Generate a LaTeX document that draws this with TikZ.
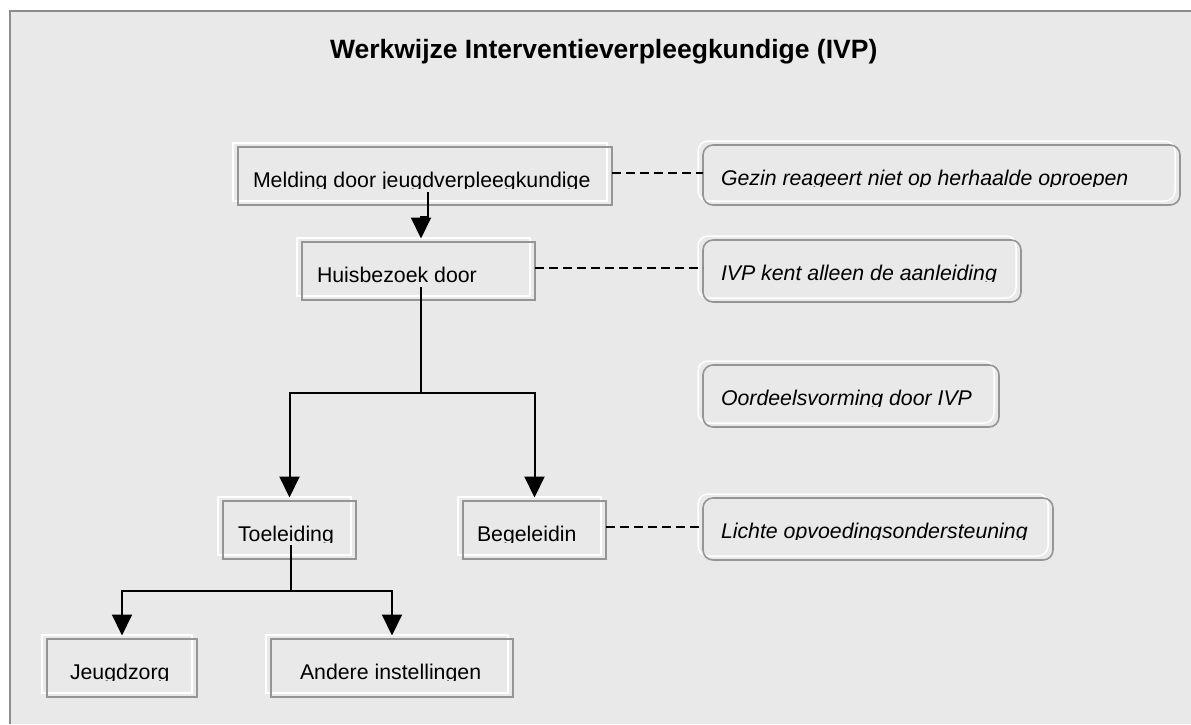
\documentclass[tikz,border=0pt]{standalone}
\usepackage{fontspec}
\setmainfont{Liberation Sans}
\usetikzlibrary{arrows.meta}
\definecolor{bgc}{HTML}{E9E9E9}
\definecolor{frc}{HTML}{8C8C8C}
\definecolor{bxc}{HTML}{959595}
\tikzset{
 boxst/.style={draw=bxc, line width=1.6pt, inner sep=0pt, outer sep=0pt},
 rbox/.style={boxst, rounded corners=10pt},
 hl/.style={draw=white, line width=1.5pt},
 lbl/.style={anchor=base west, inner sep=0pt, outer sep=0pt, font=\fontsize{21.3}{25}\selectfont},
 ilbl/.style={anchor=base west, inner sep=0pt, outer sep=0pt, font=\fontsize{21.3}{25}\selectfont\itshape},
 arr/.style={draw=black, line width=2pt, -{Triangle[length=21pt,width=20pt]}, shorten >=3.5pt},
 lnk/.style={draw=black, line width=2pt},
 dsh/.style={draw=black, line width=1.5pt, dash pattern=on 9pt off 5pt},
 ttl/.style={anchor=base west, inner sep=0pt, outer sep=0pt, font=\fontsize{26.5}{30}\selectfont\bfseries},
}
\newcommand\mkbox[9]{%
 \draw[#8, hl] (#2-5,#3-4) rectangle (#4-5,#5-4);
 \node[#8, minimum width=#4-#2, minimum height=#5-#3, anchor=north west] (#1) at (#2,#3) {};
 \begin{scope}
 \clip (#2,#3) rectangle (#4,#3+41);
 \node[#9] (#1-t) at (#6,#3+40) {#7};
 \end{scope}}
\begin{document}
\begin{tikzpicture}[x=1pt,y=-1pt]
\useasboundingbox (0,0) rectangle (1191,724);
\fill[bgc] (10,11) rectangle (1191,724);
\draw[frc, line width=2pt] (10,724) -- (10,11) -- (1191,11);

\node[ttl] (title) at (330,58) {Werkwijze Interventieverpleegkundige (IVP)};

\mkbox{mel}{238}{147}{612}{205}{253}{Melding door jeugdverpleegkundige}{boxst}{lbl}
\mkbox{hb}{302}{242}{535}{300}{317}{Huisbezoek door}{boxst}{lbl}
\mkbox{toe}{223}{501}{356}{559}{238}{Toeleiding}{boxst}{lbl}
\mkbox{beg}{463}{501}{606}{559}{477}{Begeleidin}{boxst}{lbl}
\mkbox{jz}{47}{639}{197}{697}{70}{Jeugdzorg}{boxst}{lbl}
\mkbox{ai}{271}{639}{513}{697}{300}{Andere instellingen}{boxst}{lbl}
\mkbox{gez}{703}{145}{1180}{205}{721}{Gezin reageert niet op herhaalde oproepen}{rbox}{ilbl}
\mkbox{ivp}{703}{240}{1021}{302}{721}{IVP kent alleen de aanleiding}{rbox}{ilbl}
\mkbox{oor}{703}{365}{999}{427}{721}{Oordeelsvorming door IVP}{rbox}{ilbl}
\mkbox{lic}{703}{498}{1053}{560}{721}{Lichte opvoedingsondersteuning}{rbox}{ilbl}

% connectors
\coordinate (m1) at (428,192);
\coordinate (j1) at (421,217);
\draw[arr] (m1) |- (j1) -- (j1 |- hb.north);

\coordinate (h1) at (421,287);
\coordinate (j2) at (421,393);
\draw[lnk] (h1) -- (j2);
\draw[arr] (j2) -| (toe.north);
\draw[arr] (j2) -| (beg.north);

\coordinate (t1) at (291,545);
\coordinate (j3) at (291,591);
\draw[lnk] (t1) -- (j3);
\draw[arr] (j3) -| (jz.north);
\draw[arr] (j3) -| (ai.north);

\coordinate (d1) at ([yshift=3pt]mel.east);
\draw[dsh] (d1) -- (d1 -| gez.west);
\coordinate (d2) at ([yshift=3pt]hb.east);
\draw[dsh] (d2) -- (d2 -| ivp.west);
\coordinate (d3) at ([yshift=3pt]beg.east);
\draw[dsh] (d3) -- (d3 -| lic.west);
\end{tikzpicture}
\end{document}
